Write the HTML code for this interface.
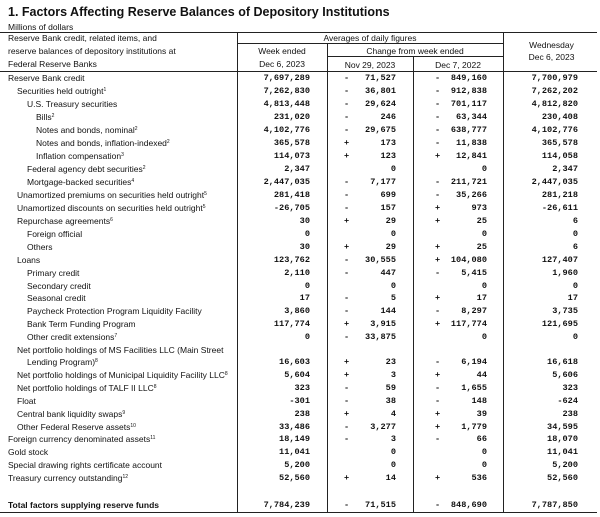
<!DOCTYPE html>
<html><head><meta charset="utf-8"><style>
body{margin:0;width:600px;height:517px;background:#fff;position:relative;overflow:hidden;font-family:"Liberation Sans",sans-serif;color:#111}
.a{position:absolute;white-space:nowrap}
.t{font-weight:bold;font-size:12.5px;left:8px;top:5px}
.h{font-size:8.5px;line-height:12px}
.l{position:absolute;background:#222}
.r{position:absolute;left:0;width:600px;height:13px;font-size:8.5px;line-height:13px}
.r span{position:absolute;white-space:nowrap}
.n{font-family:"Liberation Mono",monospace;font-weight:bold;font-size:8.6px;text-align:right}
.c1{right:290px}.s2{left:344px}.n2{right:204px}.s3{left:435px}.n3{right:113px}.c4{right:22px}
sup{font-size:5px;vertical-align:3px;line-height:0}
</style></head><body>
<div class="a t">1. Factors Affecting Reserve Balances of Depository Institutions</div>
<div class="a h" style="left:8px;top:21px">Millions of dollars</div>
<div class="l" style="left:0;top:32px;width:597px;height:1px"></div>
<div class="l" style="left:0;top:71px;width:597px;height:1px"></div>
<div class="l" style="left:0;top:512px;width:597px;height:1px"></div>
<div class="l" style="left:237px;top:43px;width:266px;height:1px"></div>
<div class="l" style="left:327px;top:56px;width:176px;height:1px"></div>
<div class="l" style="left:237px;top:32px;width:1px;height:481px"></div>
<div class="l" style="left:327px;top:43px;width:1px;height:470px"></div>
<div class="l" style="left:413px;top:56px;width:1px;height:457px"></div>
<div class="l" style="left:503px;top:32px;width:1px;height:481px"></div>
<div class="a h" style="left:8px;top:32px">Reserve Bank credit, related items, and</div>
<div class="a h" style="left:8px;top:45px">reserve balances of depository institutions at</div>
<div class="a h" style="left:8px;top:58px">Federal Reserve Banks</div>
<div class="a h" style="left:237px;width:266px;text-align:center;top:32px">Averages of daily figures</div>
<div class="a h" style="left:237px;width:90px;text-align:center;top:45px">Week ended</div>
<div class="a h" style="left:237px;width:90px;text-align:center;top:58px">Dec 6, 2023</div>
<div class="a h" style="left:327px;width:176px;text-align:center;top:45px">Change from week ended</div>
<div class="a h" style="left:327px;width:86px;text-align:center;top:59px">Nov 29, 2023</div>
<div class="a h" style="left:413px;width:90px;text-align:center;top:59px">Dec 7, 2022</div>
<div class="a h" style="left:503px;width:97px;text-align:center;top:39px">Wednesday</div>
<div class="a h" style="left:503px;width:97px;text-align:center;top:51px">Dec 6, 2023</div>

<div class="r" style="top:72px"><span style="left:8px">Reserve Bank credit</span><span class="n c1">7,697,289</span><span class="n s2">-</span><span class="n n2">71,527</span><span class="n s3">-</span><span class="n n3">849,160</span><span class="n c4">7,700,979</span></div>
<div class="r" style="top:85px"><span style="left:17px">Securities held outright<sup>1</sup></span><span class="n c1">7,262,830</span><span class="n s2">-</span><span class="n n2">36,801</span><span class="n s3">-</span><span class="n n3">912,838</span><span class="n c4">7,262,202</span></div>
<div class="r" style="top:98px"><span style="left:27px">U.S. Treasury securities</span><span class="n c1">4,813,448</span><span class="n s2">-</span><span class="n n2">29,624</span><span class="n s3">-</span><span class="n n3">701,117</span><span class="n c4">4,812,820</span></div>
<div class="r" style="top:111px"><span style="left:36px">Bills<sup>2</sup></span><span class="n c1">231,020</span><span class="n s2">-</span><span class="n n2">246</span><span class="n s3">-</span><span class="n n3">63,344</span><span class="n c4">230,408</span></div>
<div class="r" style="top:124px"><span style="left:36px">Notes and bonds, nominal<sup>2</sup></span><span class="n c1">4,102,776</span><span class="n s2">-</span><span class="n n2">29,675</span><span class="n s3">-</span><span class="n n3">638,777</span><span class="n c4">4,102,776</span></div>
<div class="r" style="top:137px"><span style="left:36px">Notes and bonds, inflation-indexed<sup>2</sup></span><span class="n c1">365,578</span><span class="n s2">+</span><span class="n n2">173</span><span class="n s3">-</span><span class="n n3">11,838</span><span class="n c4">365,578</span></div>
<div class="r" style="top:150px"><span style="left:36px">Inflation compensation<sup>3</sup></span><span class="n c1">114,073</span><span class="n s2">+</span><span class="n n2">123</span><span class="n s3">+</span><span class="n n3">12,841</span><span class="n c4">114,058</span></div>
<div class="r" style="top:163px"><span style="left:27px">Federal agency debt securities<sup>2</sup></span><span class="n c1">2,347</span><span class="n n2">0</span><span class="n n3">0</span><span class="n c4">2,347</span></div>
<div class="r" style="top:176px"><span style="left:27px">Mortgage-backed securities<sup>4</sup></span><span class="n c1">2,447,035</span><span class="n s2">-</span><span class="n n2">7,177</span><span class="n s3">-</span><span class="n n3">211,721</span><span class="n c4">2,447,035</span></div>
<div class="r" style="top:189px"><span style="left:17px">Unamortized premiums on securities held outright<sup>5</sup></span><span class="n c1">281,418</span><span class="n s2">-</span><span class="n n2">699</span><span class="n s3">-</span><span class="n n3">35,266</span><span class="n c4">281,218</span></div>
<div class="r" style="top:202px"><span style="left:17px">Unamortized discounts on securities held outright<sup>5</sup></span><span class="n c1">-26,705</span><span class="n s2">-</span><span class="n n2">157</span><span class="n s3">+</span><span class="n n3">973</span><span class="n c4">-26,611</span></div>
<div class="r" style="top:215px"><span style="left:17px">Repurchase agreements<sup>6</sup></span><span class="n c1">30</span><span class="n s2">+</span><span class="n n2">29</span><span class="n s3">+</span><span class="n n3">25</span><span class="n c4">6</span></div>
<div class="r" style="top:228px"><span style="left:27px">Foreign official</span><span class="n c1">0</span><span class="n n2">0</span><span class="n n3">0</span><span class="n c4">0</span></div>
<div class="r" style="top:241px"><span style="left:27px">Others</span><span class="n c1">30</span><span class="n s2">+</span><span class="n n2">29</span><span class="n s3">+</span><span class="n n3">25</span><span class="n c4">6</span></div>
<div class="r" style="top:254px"><span style="left:17px">Loans</span><span class="n c1">123,762</span><span class="n s2">-</span><span class="n n2">30,555</span><span class="n s3">+</span><span class="n n3">104,080</span><span class="n c4">127,407</span></div>
<div class="r" style="top:267px"><span style="left:27px">Primary credit</span><span class="n c1">2,110</span><span class="n s2">-</span><span class="n n2">447</span><span class="n s3">-</span><span class="n n3">5,415</span><span class="n c4">1,960</span></div>
<div class="r" style="top:280px"><span style="left:27px">Secondary credit</span><span class="n c1">0</span><span class="n n2">0</span><span class="n n3">0</span><span class="n c4">0</span></div>
<div class="r" style="top:292px"><span style="left:27px">Seasonal credit</span><span class="n c1">17</span><span class="n s2">-</span><span class="n n2">5</span><span class="n s3">+</span><span class="n n3">17</span><span class="n c4">17</span></div>
<div class="r" style="top:305px"><span style="left:27px">Paycheck Protection Program Liquidity Facility</span><span class="n c1">3,860</span><span class="n s2">-</span><span class="n n2">144</span><span class="n s3">-</span><span class="n n3">8,297</span><span class="n c4">3,735</span></div>
<div class="r" style="top:318px"><span style="left:27px">Bank Term Funding Program</span><span class="n c1">117,774</span><span class="n s2">+</span><span class="n n2">3,915</span><span class="n s3">+</span><span class="n n3">117,774</span><span class="n c4">121,695</span></div>
<div class="r" style="top:331px"><span style="left:27px">Other credit extensions<sup>7</sup></span><span class="n c1">0</span><span class="n s2">-</span><span class="n n2">33,875</span><span class="n n3">0</span><span class="n c4">0</span></div>
<div class="r" style="top:344px"><span style="left:17px">Net portfolio holdings of MS Facilities LLC (Main Street</span></div>
<div class="r" style="top:356px"><span style="left:27px">Lending Program)<sup>8</sup></span><span class="n c1">16,603</span><span class="n s2">+</span><span class="n n2">23</span><span class="n s3">-</span><span class="n n3">6,194</span><span class="n c4">16,618</span></div>
<div class="r" style="top:369px"><span style="left:17px">Net portfolio holdings of Municipal Liquidity Facility LLC<sup>8</sup></span><span class="n c1">5,604</span><span class="n s2">+</span><span class="n n2">3</span><span class="n s3">+</span><span class="n n3">44</span><span class="n c4">5,606</span></div>
<div class="r" style="top:382px"><span style="left:17px">Net portfolio holdings of TALF II LLC<sup>8</sup></span><span class="n c1">323</span><span class="n s2">-</span><span class="n n2">59</span><span class="n s3">-</span><span class="n n3">1,655</span><span class="n c4">323</span></div>
<div class="r" style="top:395px"><span style="left:17px">Float</span><span class="n c1">-301</span><span class="n s2">-</span><span class="n n2">38</span><span class="n s3">-</span><span class="n n3">148</span><span class="n c4">-624</span></div>
<div class="r" style="top:408px"><span style="left:17px">Central bank liquidity swaps<sup>9</sup></span><span class="n c1">238</span><span class="n s2">+</span><span class="n n2">4</span><span class="n s3">+</span><span class="n n3">39</span><span class="n c4">238</span></div>
<div class="r" style="top:421px"><span style="left:17px">Other Federal Reserve assets<sup>10</sup></span><span class="n c1">33,486</span><span class="n s2">-</span><span class="n n2">3,277</span><span class="n s3">+</span><span class="n n3">1,779</span><span class="n c4">34,595</span></div>
<div class="r" style="top:433px"><span style="left:8px">Foreign currency denominated assets<sup>11</sup></span><span class="n c1">18,149</span><span class="n s2">-</span><span class="n n2">3</span><span class="n s3">-</span><span class="n n3">66</span><span class="n c4">18,070</span></div>
<div class="r" style="top:446px"><span style="left:8px">Gold stock</span><span class="n c1">11,041</span><span class="n n2">0</span><span class="n n3">0</span><span class="n c4">11,041</span></div>
<div class="r" style="top:459px"><span style="left:8px">Special drawing rights certificate account</span><span class="n c1">5,200</span><span class="n n2">0</span><span class="n n3">0</span><span class="n c4">5,200</span></div>
<div class="r" style="top:472px"><span style="left:8px">Treasury currency outstanding<sup>12</sup></span><span class="n c1">52,560</span><span class="n s2">+</span><span class="n n2">14</span><span class="n s3">+</span><span class="n n3">536</span><span class="n c4">52,560</span></div>
<div class="r" style="top:499px"><span style="left:8px;font-weight:bold">Total factors supplying reserve funds</span><span class="n c1">7,784,239</span><span class="n s2">-</span><span class="n n2">71,515</span><span class="n s3">-</span><span class="n n3">848,690</span><span class="n c4">7,787,850</span></div>
</body></html>
